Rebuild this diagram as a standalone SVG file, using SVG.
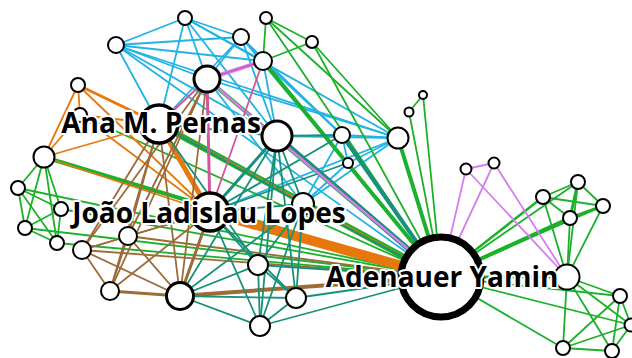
<svg xmlns="http://www.w3.org/2000/svg" width="632" height="358" viewBox="0 0 632 358">
<style>
line{stroke-linecap:round}
.b{stroke:#22b3e6;stroke-width:1.8}
.g{stroke:#1db12b;stroke-width:1.8}
.o{stroke:#e8780c;stroke-width:1.8}
.br{stroke:#9c6b38;stroke-width:1.8}
.t{stroke:#17917a;stroke-width:1.8}
.v{stroke:#d77cf0;stroke-width:1.8}
.p{stroke:#d4559a;stroke-width:1.8}
.n circle{fill:#fff;stroke:#000;stroke-width:2}
.lbl{font-family:"Open Sans","Noto Sans",sans-serif;font-weight:700;font-size:28px;text-anchor:middle;fill:#000;stroke:#fff;stroke-width:4;paint-order:stroke;stroke-linejoin:round}
</style>
<rect width="632" height="358" fill="#fff"/>
<g id="edges">
<!-- blue -->
<line class="b" x1="185" y1="18" x2="116" y2="45"/>
<line class="b" x1="185" y1="18" x2="241" y2="37"/>
<line class="b" x1="185" y1="18" x2="207" y2="79"/>
<line class="b" x1="185" y1="18" x2="159" y2="124"/>
<line class="b" x1="185" y1="18" x2="277" y2="136"/>
<line class="b" x1="185" y1="18" x2="398" y2="138"/>
<line class="b" x1="185" y1="18" x2="263" y2="61"/>
<line class="b" x1="116" y1="45" x2="241" y2="37"/>
<line class="b" x1="116" y1="45" x2="263" y2="61"/>
<line class="b" x1="116" y1="45" x2="398" y2="138"/>
<line class="b" x1="116" y1="45" x2="277" y2="136"/>
<line class="b" x1="116" y1="45" x2="159" y2="124"/>
<line class="b" x1="116" y1="45" x2="207" y2="79"/>
<line class="b" x1="241" y1="37" x2="207" y2="79"/>
<line class="b" x1="241" y1="37" x2="263" y2="61"/>
<line class="b" x1="241" y1="37" x2="277" y2="136"/>
<line class="b" x1="241" y1="37" x2="159" y2="124"/>
<line class="b" x1="241" y1="37" x2="342" y2="135"/>
<line class="b" x1="263" y1="61" x2="277" y2="136"/>
<line class="b" x1="263" y1="61" x2="342" y2="135"/>
<line class="b" x1="207" y1="79" x2="398" y2="138"/>
<line class="b" x1="207" y1="79" x2="303" y2="204"/>
<line class="b" x1="277" y1="136" x2="398" y2="138"/>
<line class="b" x1="342" y1="135" x2="398" y2="138"/>
<line class="b" x1="342" y1="135" x2="348" y2="163"/>
<line class="b" x1="398" y1="138" x2="348" y2="163"/>
<line class="b" x1="342" y1="135" x2="303" y2="204"/>
<line class="b" x1="348" y1="163" x2="303" y2="204"/>
<line class="b" x1="398" y1="138" x2="303" y2="204"/>
<line class="b" x1="207" y1="79" x2="441" y2="277"/>
<line class="b" x1="241" y1="37" x2="441" y2="277"/>
<line class="b" x1="342" y1="135" x2="441" y2="277"/>
<line class="b" x1="348" y1="163" x2="441" y2="277"/>
<line class="b" x1="116" y1="45" x2="441" y2="277"/>
<line class="b" x1="398" y1="138" x2="210" y2="212"/>
<!-- green -->
<line class="g" x1="266" y1="18" x2="312" y2="42"/>
<line class="g" x1="266" y1="18" x2="263" y2="61"/>
<line class="g" x1="266" y1="18" x2="398" y2="138"/>
<line class="g" x1="266" y1="18" x2="441" y2="277"/>
<line class="g" x1="312" y1="42" x2="263" y2="61"/>
<line class="g" x1="312" y1="42" x2="398" y2="138"/>
<line class="g" x1="312" y1="42" x2="441" y2="277"/>
<line class="g" x1="263" y1="61" x2="441" y2="277" style="stroke-width:4"/>
<line class="g" x1="409" y1="112" x2="423" y2="95"/>
<line class="g" x1="409" y1="112" x2="441" y2="277"/>
<line class="g" x1="423" y1="95" x2="441" y2="277"/>
<line class="g" x1="398" y1="138" x2="441" y2="277" style="stroke-width:4"/>
<line class="g" x1="159" y1="124" x2="441" y2="277" style="stroke-width:6"/>
<line class="g" x1="207" y1="79" x2="441" y2="277" style="stroke-width:4"/>
<line class="g" x1="80" y1="115" x2="441" y2="277"/>
<line class="g" x1="44" y1="157" x2="441" y2="277" style="stroke-width:4"/>
<line class="g" x1="18" y1="188" x2="441" y2="277"/>
<line class="g" x1="61" y1="209" x2="441" y2="277"/>
<line class="g" x1="25" y1="228" x2="441" y2="277"/>
<line class="g" x1="57" y1="243" x2="441" y2="277"/>
<line class="g" x1="44" y1="157" x2="18" y2="188"/>
<line class="g" x1="44" y1="157" x2="61" y2="209"/>
<line class="g" x1="44" y1="157" x2="25" y2="228"/>
<line class="g" x1="44" y1="157" x2="57" y2="243"/>
<line class="g" x1="18" y1="188" x2="61" y2="209"/>
<line class="g" x1="18" y1="188" x2="25" y2="228"/>
<line class="g" x1="18" y1="188" x2="57" y2="243"/>
<line class="g" x1="61" y1="209" x2="25" y2="228"/>
<line class="g" x1="61" y1="209" x2="57" y2="243"/>
<line class="g" x1="25" y1="228" x2="57" y2="243"/>
<line class="g" x1="543" y1="197" x2="578" y2="182"/>
<line class="g" x1="543" y1="197" x2="603" y2="206"/>
<line class="g" x1="543" y1="197" x2="570" y2="218"/>
<line class="g" x1="578" y1="182" x2="603" y2="206"/>
<line class="g" x1="578" y1="182" x2="570" y2="218" style="stroke-width:3"/>
<line class="g" x1="603" y1="206" x2="570" y2="218" style="stroke-width:3"/>
<line class="g" x1="543" y1="197" x2="441" y2="277" style="stroke-width:2.5"/>
<line class="g" x1="578" y1="182" x2="441" y2="277"/>
<line class="g" x1="570" y1="218" x2="441" y2="277" style="stroke-width:4"/>
<line class="g" x1="603" y1="206" x2="441" y2="277"/>
<line class="g" x1="543" y1="197" x2="567" y2="277"/>
<line class="g" x1="578" y1="182" x2="567" y2="277"/>
<line class="g" x1="603" y1="206" x2="567" y2="277"/>
<line class="g" x1="570" y1="218" x2="567" y2="277"/>
<line class="g" x1="441" y1="277" x2="567" y2="277" style="stroke-width:3"/>
<line class="g" x1="441" y1="277" x2="620" y2="296"/>
<line class="g" x1="441" y1="277" x2="631" y2="325"/>
<line class="g" x1="441" y1="277" x2="563" y2="348"/>
<line class="g" x1="567" y1="277" x2="620" y2="296"/>
<line class="g" x1="567" y1="277" x2="631" y2="325"/>
<line class="g" x1="567" y1="277" x2="563" y2="348"/>
<line class="g" x1="567" y1="277" x2="612" y2="351"/>
<line class="g" x1="620" y1="296" x2="631" y2="325"/>
<line class="g" x1="620" y1="296" x2="563" y2="348"/>
<line class="g" x1="620" y1="296" x2="612" y2="351"/>
<line class="g" x1="631" y1="325" x2="563" y2="348"/>
<line class="g" x1="631" y1="325" x2="612" y2="351"/>
<line class="g" x1="563" y1="348" x2="612" y2="351"/>
<!-- orange -->
<line class="o" x1="78" y1="85" x2="44" y2="157"/>
<line class="o" x1="78" y1="85" x2="80" y2="115"/>
<line class="o" x1="78" y1="85" x2="159" y2="124" style="stroke-width:3"/>
<line class="o" x1="78" y1="85" x2="210" y2="212"/>
<line class="o" x1="80" y1="115" x2="44" y2="157"/>
<line class="o" x1="80" y1="115" x2="159" y2="124"/>
<line class="o" x1="80" y1="115" x2="210" y2="212"/>
<line class="o" x1="44" y1="157" x2="159" y2="124"/>
<line class="o" x1="44" y1="157" x2="210" y2="212"/>
<line class="o" x1="159" y1="124" x2="210" y2="212" style="stroke-width:5"/>
<line class="o" x1="159" y1="124" x2="441" y2="277"/>
<line class="o" x1="210" y1="212" x2="441" y2="277" style="stroke-width:10"/>
<!-- brown -->
<line class="br" x1="82" y1="250" x2="128" y2="236"/>
<line class="br" x1="82" y1="250" x2="110" y2="291"/>
<line class="br" x1="82" y1="250" x2="180" y2="296"/>
<line class="br" x1="82" y1="250" x2="210" y2="212"/>
<line class="br" x1="82" y1="250" x2="159" y2="124"/>
<line class="br" x1="128" y1="236" x2="110" y2="291"/>
<line class="br" x1="128" y1="236" x2="180" y2="296"/>
<line class="br" x1="128" y1="236" x2="210" y2="212"/>
<line class="br" x1="128" y1="236" x2="159" y2="124"/>
<line class="br" x1="110" y1="291" x2="180" y2="296" style="stroke-width:3"/>
<line class="br" x1="110" y1="291" x2="210" y2="212"/>
<line class="br" x1="110" y1="291" x2="159" y2="124"/>
<line class="br" x1="180" y1="296" x2="210" y2="212" style="stroke-width:3"/>
<line class="br" x1="180" y1="296" x2="159" y2="124"/>
<line class="br" x1="180" y1="296" x2="207" y2="79"/>
<line class="br" x1="128" y1="236" x2="207" y2="79"/>
<line class="br" x1="82" y1="250" x2="207" y2="79"/>
<line class="br" x1="110" y1="291" x2="207" y2="79"/>
<line class="br" x1="180" y1="296" x2="441" y2="277" style="stroke-width:4"/>
<line class="br" x1="82" y1="250" x2="441" y2="277"/>
<line class="br" x1="128" y1="236" x2="441" y2="277"/>
<!-- teal -->
<line class="t" x1="277" y1="136" x2="210" y2="212" style="stroke-width:3"/>
<line class="t" x1="277" y1="136" x2="303" y2="204"/>
<line class="t" x1="277" y1="136" x2="258" y2="265"/>
<line class="t" x1="277" y1="136" x2="296" y2="298"/>
<line class="t" x1="277" y1="136" x2="260" y2="326"/>
<line class="t" x1="277" y1="136" x2="180" y2="296"/>
<line class="t" x1="277" y1="136" x2="441" y2="277" style="stroke-width:5"/>
<line class="t" x1="210" y1="212" x2="303" y2="204"/>
<line class="t" x1="210" y1="212" x2="258" y2="265"/>
<line class="t" x1="210" y1="212" x2="296" y2="298"/>
<line class="t" x1="210" y1="212" x2="260" y2="326"/>
<line class="t" x1="303" y1="204" x2="258" y2="265"/>
<line class="t" x1="303" y1="204" x2="296" y2="298"/>
<line class="t" x1="303" y1="204" x2="260" y2="326"/>
<line class="t" x1="258" y1="265" x2="296" y2="298"/>
<line class="t" x1="258" y1="265" x2="260" y2="326"/>
<line class="t" x1="296" y1="298" x2="260" y2="326"/>
<line class="t" x1="180" y1="296" x2="258" y2="265"/>
<line class="t" x1="180" y1="296" x2="296" y2="298"/>
<line class="t" x1="180" y1="296" x2="260" y2="326"/>
<line class="t" x1="180" y1="296" x2="303" y2="204"/>
<line class="t" x1="260" y1="326" x2="441" y2="277"/>
<line class="t" x1="296" y1="298" x2="441" y2="277"/>
<line class="t" x1="258" y1="265" x2="441" y2="277"/>
<line class="t" x1="303" y1="204" x2="441" y2="277"/>
<line class="t" x1="342" y1="135" x2="441" y2="277" style="stroke-width:4"/>
<line class="t" x1="342" y1="135" x2="210" y2="212"/>
<line class="t" x1="342" y1="135" x2="277" y2="136"/>
<line class="t" x1="348" y1="163" x2="210" y2="212"/>
<line class="t" x1="159" y1="124" x2="277" y2="136" style="stroke-width:2"/>
<line class="t" x1="159" y1="124" x2="258" y2="265"/>
<line class="t" x1="159" y1="124" x2="303" y2="204"/>
<!-- violet / pink -->
<line class="v" x1="466" y1="169" x2="494" y2="163"/>
<line class="v" x1="466" y1="169" x2="441" y2="277"/>
<line class="v" x1="494" y1="163" x2="441" y2="277"/>
<line class="v" x1="466" y1="169" x2="567" y2="277"/>
<line class="v" x1="494" y1="163" x2="567" y2="277"/>
<line class="v" x1="263" y1="61" x2="207" y2="79" style="stroke-width:4"/>
<line class="v" x1="207" y1="79" x2="441" y2="277" style="stroke-width:2.5"/>
<line class="p" x1="263" y1="61" x2="210" y2="212"/>
<line class="p" x1="207" y1="79" x2="210" y2="212" style="stroke-width:3"/>
<line class="p" x1="207" y1="79" x2="159" y2="124" style="stroke-width:2"/>
<line class="p" x1="263" y1="61" x2="207" y2="79" style="stroke-width:1.2"/>
</g>
<g id="node-1" class="n"><circle cx="185" cy="18" r="7"/></g>
<g id="node-2" class="n"><circle cx="116" cy="45" r="8"/></g>
<g id="node-3" class="n"><circle cx="241" cy="37" r="8"/></g>
<g id="node-4" class="n"><circle cx="266" cy="18" r="6"/></g>
<g id="node-5" class="n"><circle cx="312" cy="42" r="6"/></g>
<g id="node-6" class="n"><circle cx="263" cy="61" r="9"/></g>
<g id="node-7" class="n"><circle cx="207" cy="79" r="13" style="stroke-width:3"/></g>
<g id="node-8" class="n"><circle cx="78" cy="85" r="7"/></g>
<g id="node-42" class="n"><circle cx="80" cy="115" r="7"/></g>
<g id="node-ana" class="n"><circle cx="159" cy="124" r="19" style="stroke-width:3.5"/></g>
<g id="node-10" class="n"><circle cx="277" cy="136" r="15" style="stroke-width:3"/></g>
<g id="node-11" class="n"><circle cx="342" cy="135" r="8"/></g>
<g id="node-12" class="n"><circle cx="398" cy="138" r="10.5"/></g>
<g id="node-13" class="n"><circle cx="348" cy="163" r="5"/></g>
<g id="node-14" class="n"><circle cx="409" cy="112" r="4.5"/></g>
<g id="node-15" class="n"><circle cx="423" cy="95" r="4"/></g>
<g id="node-16" class="n"><circle cx="44" cy="157" r="10.5"/></g>
<g id="node-17" class="n"><circle cx="18" cy="188" r="7"/></g>
<g id="node-18" class="n"><circle cx="61" cy="209" r="7"/></g>
<g id="node-19" class="n"><circle cx="25" cy="228" r="7"/></g>
<g id="node-20" class="n"><circle cx="57" cy="243" r="7"/></g>
<g id="node-21" class="n"><circle cx="82" cy="250" r="9"/></g>
<g id="node-22" class="n"><circle cx="128" cy="236" r="9"/></g>
<g id="node-23" class="n"><circle cx="110" cy="291" r="9"/></g>
<g id="node-24" class="n"><circle cx="180" cy="296" r="13.5" style="stroke-width:3"/></g>
<g id="node-joao" class="n"><circle cx="210" cy="212" r="19" style="stroke-width:3.5"/></g>
<g id="node-26" class="n"><circle cx="303" cy="204" r="11"/></g>
<g id="node-27" class="n"><circle cx="258" cy="265" r="10"/></g>
<g id="node-28" class="n"><circle cx="296" cy="298" r="10"/></g>
<g id="node-29" class="n"><circle cx="260" cy="326" r="10"/></g>
<g id="node-adenauer" class="n"><circle cx="441" cy="277" r="40" style="stroke-width:7"/></g>
<g id="node-31" class="n"><circle cx="567" cy="277" r="12.5"/></g>
<g id="node-32" class="n"><circle cx="466" cy="169" r="5.5"/></g>
<g id="node-33" class="n"><circle cx="494" cy="163" r="5.5"/></g>
<g id="node-34" class="n"><circle cx="543" cy="197" r="7"/></g>
<g id="node-35" class="n"><circle cx="578" cy="182" r="7"/></g>
<g id="node-36" class="n"><circle cx="603" cy="206" r="7"/></g>
<g id="node-37" class="n"><circle cx="570" cy="218" r="7"/></g>
<g id="node-38" class="n"><circle cx="620" cy="296" r="7"/></g>
<g id="node-39" class="n"><circle cx="631" cy="325" r="6.5"/></g>
<g id="node-40" class="n"><circle cx="563" cy="348" r="7"/></g>
<g id="node-41" class="n"><circle cx="612" cy="351" r="7"/></g>
<g id="labels">
<text class="lbl" x="161" y="133">Ana M. Pernas</text>
<text class="lbl" x="209" y="223">João Ladislau Lopes</text>
<text class="lbl" x="442" y="287">Adenauer Yamin</text>
</g>
</svg>
